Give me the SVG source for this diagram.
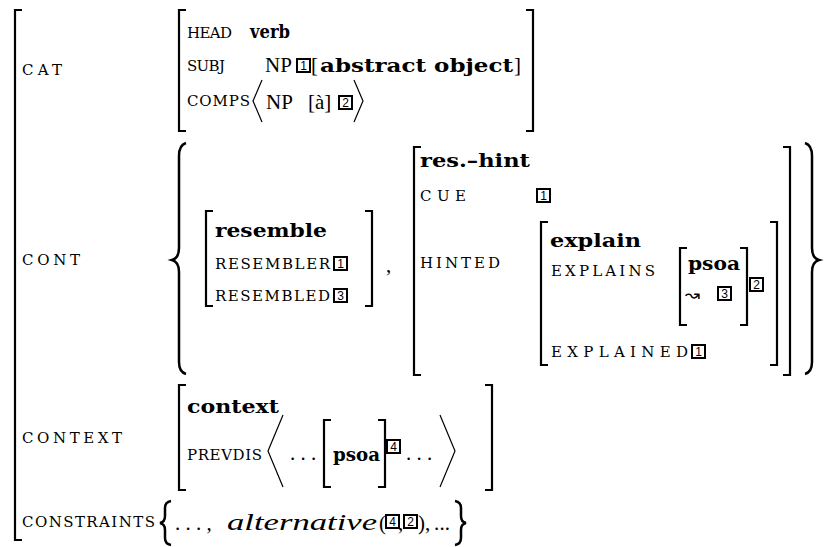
<svg xmlns="http://www.w3.org/2000/svg" width="825" height="547" viewBox="0 0 825 547">
<style>
.lbl{font-family:"DejaVu Serif","Liberation Serif",serif;font-size:15px;fill:#000}
.b{font-family:"DejaVu Serif","Liberation Serif",serif;font-weight:bold;font-size:18px;fill:#000}
.rm{font-family:"Liberation Serif",serif;font-size:21px;fill:#000}
.it{font-family:"Liberation Serif",serif;font-style:italic;font-size:23px;fill:#000}
.br{fill:none;stroke:#000;stroke-width:2.2}
.brc{fill:none;stroke:#000;stroke-width:2.5}
.ang{fill:none;stroke:#000;stroke-width:1.2}
.tag rect{fill:none;stroke:#000;stroke-width:2}
.tag text{font-family:"Liberation Sans",sans-serif;font-size:12px;text-anchor:middle;fill:#000}
.sym{font-family:"DejaVu Sans",sans-serif;font-size:18px;fill:#000}
</style>
<rect width="825" height="547" fill="#fff"/>

<!-- outer matrix -->
<g id="outer">
<path class="br" d="M22 10 H15 V540 H22"/>
<text class="lbl" x="22" y="75" textLength="40" lengthAdjust="spacing">CAT</text>
<text class="lbl" x="22" y="265" textLength="58" lengthAdjust="spacing">CONT</text>
<text class="lbl" x="22" y="443" textLength="100" lengthAdjust="spacing">CONTEXT</text>
<text class="lbl" x="22" y="527" textLength="133" lengthAdjust="spacing">CONSTRAINTS</text>
</g>

<!-- CAT value -->
<g id="cat">
<path class="br" d="M186 10 H179 V131 H186"/>
<path class="br" d="M526 10 H533 V131 H526"/>
<text class="lbl" x="187" y="38" textLength="45" lengthAdjust="spacing">HEAD</text>
<text class="b" x="250" y="38" textLength="40" lengthAdjust="spacingAndGlyphs">verb</text>
<text class="lbl" x="187" y="71" textLength="38" lengthAdjust="spacing">SUBJ</text>
<text class="rm" x="265" y="72">NP</text>
<g class="tag"><rect x="297" y="59" width="13" height="13"/><text x="303.5" y="70">1</text></g>
<text class="rm" x="311" y="72">[</text>
<text class="b" x="320" y="72" textLength="193" lengthAdjust="spacingAndGlyphs">abstract object</text>
<text class="rm" x="514" y="72">]</text>
<text class="lbl" x="187" y="106" textLength="63" lengthAdjust="spacing">COMPS</text>
<polyline class="ang" points="262,80 253,101 262,122"/>
<text class="rm" x="266" y="109">NP</text>
<text class="rm" x="308" y="109">[à]</text>
<g class="tag"><rect x="339" y="96" width="13" height="13"/><text x="345.5" y="107">2</text></g>
<polyline class="ang" points="354,80 363,101 354,122"/>
</g>

<!-- CONT value -->
<g id="cont">
<path class="brc" d="M186 143 Q179 145 179 156 V248 Q179 258 172 260 Q179 262 179 272 V362 Q179 372 186 374"/>
<path class="brc" d="M805 143 Q812 145 812 156 V248 Q812 258 819 260 Q812 262 812 272 V362 Q812 372 805 374"/>
<g id="resemble">
<path class="br" d="M213 211 H206 V306 H213"/>
<path class="br" d="M365 211 H372 V306 H365"/>
<text class="b" x="215" y="237" textLength="112" lengthAdjust="spacingAndGlyphs">resemble</text>
<text class="lbl" x="215" y="269" textLength="115" lengthAdjust="spacing">RESEMBLER</text>
<g class="tag"><rect x="334" y="257" width="13" height="13"/><text x="340.5" y="268">1</text></g>
<text class="lbl" x="215" y="301" textLength="115" lengthAdjust="spacing">RESEMBLED</text>
<g class="tag"><rect x="334" y="289" width="13" height="13"/><text x="340.5" y="300">3</text></g>
</g>
<text class="rm" x="386" y="272">,</text>
<g id="reshint">
<path class="br" d="M421 147 H414 V375 H421"/>
<path class="br" d="M783 147 H790 V375 H783"/>
<text class="b" x="420" y="167" textLength="110" lengthAdjust="spacingAndGlyphs">res.–hint</text>
<text class="lbl" x="420" y="201" textLength="46" lengthAdjust="spacing">CUE</text>
<g class="tag"><rect x="537" y="189" width="13" height="13"/><text x="543.5" y="200">1</text></g>
<text class="lbl" x="420" y="268" textLength="80" lengthAdjust="spacing">HINTED</text>
</g>
<g id="explain">
<path class="br" d="M548 222 H541 V365 H548"/>
<path class="br" d="M770 222 H777 V365 H770"/>
<text class="b" x="550" y="247" textLength="91" lengthAdjust="spacingAndGlyphs">explain</text>
<text class="lbl" x="551" y="276" textLength="104" lengthAdjust="spacing">EXPLAINS</text>
<path class="br" d="M687 248 H680 V325 H687"/>
<path class="br" d="M740 248 H747 V325 H740"/>
<text class="b" x="688" y="270" textLength="52" lengthAdjust="spacingAndGlyphs">psoa</text>
<text class="sym" x="685" y="301">↝</text>
<g class="tag"><rect x="718" y="287" width="13" height="13"/><text x="724.5" y="298">3</text></g>
<g class="tag"><rect x="750" y="278" width="13" height="13"/><text x="756.5" y="289">2</text></g>
<text class="lbl" x="551" y="357" textLength="137" lengthAdjust="spacing">EXPLAINED</text>
<g class="tag"><rect x="692" y="345" width="13" height="13"/><text x="698.5" y="356">1</text></g>
</g>
</g>

<!-- CONTEXT value -->
<g id="context">
<path class="br" d="M186 385 H179 V490 H186"/>
<path class="br" d="M485 385 H492 V490 H485"/>
<text class="b" x="187" y="413" textLength="92" lengthAdjust="spacingAndGlyphs">context</text>
<text class="lbl" x="187" y="460" textLength="75" lengthAdjust="spacing">PREVDIS</text>
<polyline class="ang" points="283,415 268,451 283,487"/>
<text class="rm" x="290" y="460">. . .</text>
<path class="br" d="M331 420 H324 V487 H331"/>
<path class="br" d="M378 420 H385 V487 H378"/>
<text class="b" x="333" y="461" textLength="47" lengthAdjust="spacingAndGlyphs">psoa</text>
<g class="tag"><rect x="387" y="440" width="13" height="13"/><text x="393.5" y="451">4</text></g>
<text class="rm" x="406" y="460">. . .</text>
<polyline class="ang" points="440,415 455,451 440,487"/>
</g>

<!-- CONSTRAINTS value -->
<g id="constraints">
<path class="brc" d="M171 501 Q165 502 165 508 V516 Q165 522 160 523 Q165 524 165 530 V538 Q165 544 171 545"/>
<text class="rm" x="175" y="530">. . . ,</text>
<text class="it" x="227" y="530" textLength="150" lengthAdjust="spacingAndGlyphs">alternative</text>
<text class="rm" x="379" y="530">(</text>
<g class="tag"><rect x="386" y="515" width="13" height="13"/><text x="392.5" y="526">4</text></g>
<text class="rm" x="398" y="530">,</text>
<g class="tag"><rect x="404" y="515" width="13" height="13"/><text x="410.5" y="526">2</text></g>
<text class="rm" x="418" y="530">)</text>
<text class="rm" x="425" y="530">,</text>
<text class="rm" x="434" y="530" textLength="16" lengthAdjust="spacing">. . .</text>
<path class="brc" d="M455 501 Q461 502 461 508 V516 Q461 522 466 523 Q461 524 461 530 V538 Q461 544 455 545"/>
</g>
</svg>
